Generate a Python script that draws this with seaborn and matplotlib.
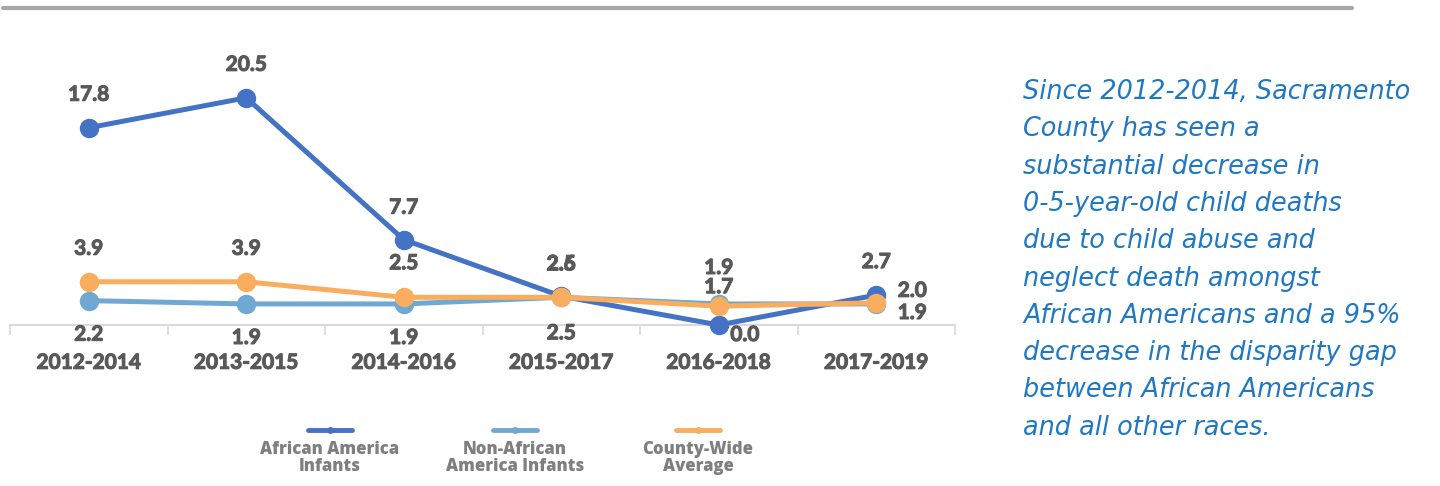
import numpy as np
import pandas as pd
import seaborn as sns
import matplotlib.pyplot as plt
import matplotlib.patheffects as pe
from matplotlib.lines import Line2D

# datos
periods = ['2012-2014', '2013-2015', '2014-2016', '2015-2017', '2016-2018', '2017-2019']
african = [17.8, 20.5, 7.7, 2.6, 0.0, 2.7]
non_african = [2.2, 1.9, 1.9, 2.5, 1.9, 1.9]
county = [3.9, 3.9, 2.5, 2.5, 1.7, 2.0]
series_names = ['African America\nInfants', 'Non-African\nAmerica Infants', 'County-Wide\nAverage']

colors = ['#4472c4', '#70a8d4', '#f9ad5e']
grey = '#595959'
bold_fx = [pe.withStroke(linewidth=0.8, foreground=grey)]

sns.set_theme(style='white')
plt.rcParams['font.family'] = ['Lato', 'DejaVu Sans']

df = pd.DataFrame({'period': periods * 3,
                   'value': african + non_african + county,
                   'serie': np.repeat(series_names, len(periods))})

fig = plt.figure(figsize=(14.4, 4.86), dpi=100)
ax = fig.add_axes([10 / 1440, 161 / 486, 945 / 1440, 266 / 486])

# orden de dibujo: naranja encima
for name, col in zip(series_names, colors):
    sub = df[df['serie'] == name]
    sns.lineplot(data=sub, x='period', y='value', ax=ax, color=col, lw=3.6,
                 marker='o', markersize=14, markeredgewidth=0, sort=False, legend=False,
                 clip_on=False)

ax.set_xlim(-0.5, 5.5)
ax.set_ylim(0, 24)
ax.set_xlabel('')
ax.set_ylabel('')
ax.set_yticks([])
for s in ['top', 'right', 'left']:
    ax.spines[s].set_visible(False)
ax.spines['bottom'].set_color('#d9d9d9')
ax.spines['bottom'].set_linewidth(1.5)
ax.spines['bottom'].set_zorder(0)
ax.set_xticks(np.arange(-0.5, 6, 1), minor=False)
ax.set_xticklabels([])
ax.tick_params(axis='x', which='major', bottom=True, length=7, width=1.2, color='#d9d9d9')
ax.set_xticks(np.arange(len(periods)), minor=True)
ax.set_xticklabels(periods, minor=True, fontsize=15, fontweight='bold', color=grey)
ax.tick_params(axis='x', which='minor', length=0, pad=20)
for t in ax.get_xticklabels(minor=True):
    t.set_path_effects(bold_fx)

# etiquetas de datos (desplazamientos en pixeles)
offs = {
    0: [(0, 33), (0, 33), (0, 32), (0, 32), (26, -10), (0, 33)],
    1: [(0, -34), (0, -34), (0, -34), (0, -36), (0, 36), (36, -9)],
    2: [(0, 33), (0, 33), (0, 34), (0, 33), (0, 19), (36, 12)],
}
for k, vals in enumerate([african, non_african, county]):
    for i, v in enumerate(vals):
        dx, dy = offs[k][i]
        ax.annotate(f'{v:.1f}', xy=(i, v), xytext=(dx * 0.72, dy * 0.72),
                    textcoords='offset points', ha='center', va='center',
                    fontsize=15, fontweight='bold', color=grey, annotation_clip=False,
                    path_effects=bold_fx)

# linea gris superior
fig.add_artist(Line2D([0.002, 1352 / 1440], [1 - 8 / 486] * 2, color='#a6a6a6', lw=3))

# leyenda manual
leg_x = [330, 515, 698]
for name, col, cx in zip(series_names, colors, leg_x):
    fig.add_artist(Line2D([(cx - 22) / 1440, (cx + 22) / 1440], [1 - 430 / 486] * 2,
                          color=col, lw=3.5, solid_capstyle='round'))
    fig.add_artist(Line2D([cx / 1440], [1 - 430 / 486], color=col, marker='o',
                          markersize=5, markeredgewidth=0))
    fig.text(cx / 1440, 1 - 458 / 486, name, ha='center', va='center', fontsize=12,
             fontweight='heavy', color='#7f7f7f', linespacing=0.95,
             family=['Open Sans', 'DejaVu Sans'])

# texto a la derecha
msg = ['Since 2012-2014, Sacramento',
       'County has seen a',
       'substantial decrease in',
       '0-5-year-old child deaths',
       'due to child abuse and',
       'neglect death amongst',
       'African Americans and a 95%',
       'decrease in the disparity gap',
       'between African Americans',
       'and all other races.']
for j, line in enumerate(msg):
    fig.text(1023 / 1440, 1 - (92 + j * 37.3) / 486, line, ha='left', va='center',
             fontsize=18.4, style='italic', color='#1f78c1', family=['DejaVu Sans'])

fig.savefig('out.png', dpi=100)
